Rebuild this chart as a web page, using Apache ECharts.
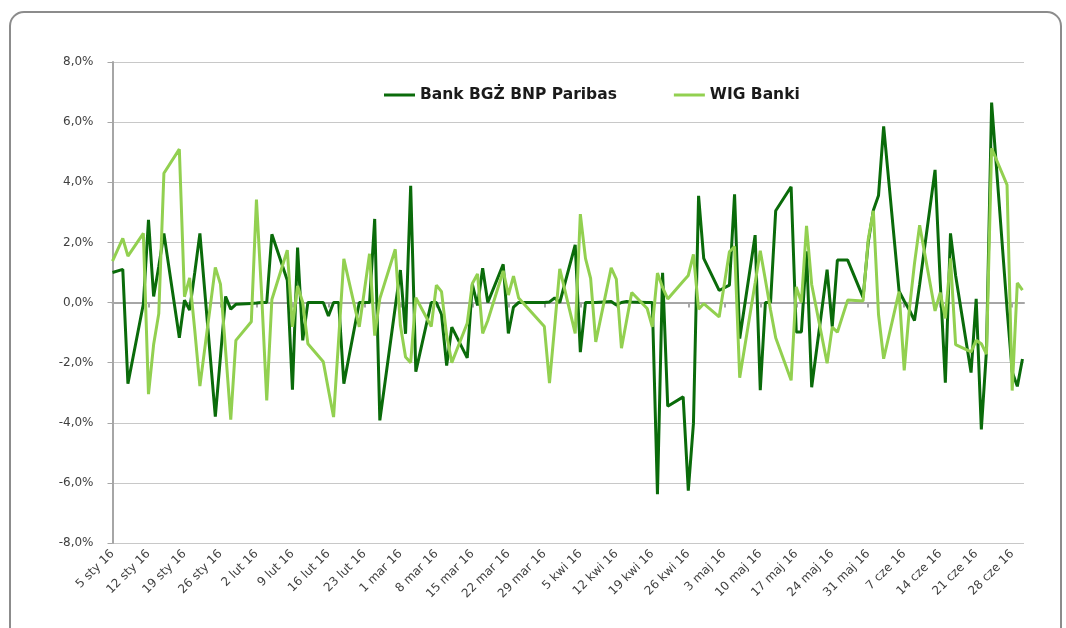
<!DOCTYPE html>
<html>
<head>
<meta charset="utf-8">
<script src="https://cdn.jsdelivr.net/npm/echarts@6/dist/echarts.min.js"></script>
<style>
html,body{margin:0;padding:0;background:#fff;}
#c{width:1066px;height:628px;}
</style>
</head>
<body>
<div id="c"></div>
<script>
// Trading days (2016) and daily returns in %
const dates = [
'2016-01-05','2016-01-07','2016-01-08','2016-01-11','2016-01-12','2016-01-13','2016-01-14','2016-01-15',
'2016-01-18','2016-01-19','2016-01-20','2016-01-21','2016-01-22','2016-01-25','2016-01-26','2016-01-27','2016-01-28','2016-01-29',
'2016-02-01','2016-02-02','2016-02-03','2016-02-04','2016-02-05','2016-02-08','2016-02-09','2016-02-10','2016-02-11','2016-02-12',
'2016-02-15','2016-02-16','2016-02-17','2016-02-18','2016-02-19','2016-02-22','2016-02-23','2016-02-24','2016-02-25','2016-02-26','2016-02-29',
'2016-03-01','2016-03-02','2016-03-03','2016-03-04','2016-03-07','2016-03-08','2016-03-09','2016-03-10','2016-03-11',
'2016-03-14','2016-03-15','2016-03-16','2016-03-17','2016-03-18','2016-03-21','2016-03-22','2016-03-23','2016-03-24',
'2016-03-29','2016-03-30','2016-03-31','2016-04-01',
'2016-04-04','2016-04-05','2016-04-06','2016-04-07','2016-04-08','2016-04-11','2016-04-12','2016-04-13','2016-04-14','2016-04-15',
'2016-04-18','2016-04-19','2016-04-20','2016-04-21','2016-04-22','2016-04-25','2016-04-26','2016-04-27','2016-04-28','2016-04-29',
'2016-05-02','2016-05-04','2016-05-05','2016-05-06','2016-05-09','2016-05-10','2016-05-11','2016-05-12','2016-05-13',
'2016-05-16','2016-05-17','2016-05-18','2016-05-19','2016-05-20','2016-05-23','2016-05-24','2016-05-25','2016-05-27',
'2016-05-30','2016-05-31','2016-06-01','2016-06-02','2016-06-03','2016-06-06','2016-06-07','2016-06-08','2016-06-09','2016-06-10',
'2016-06-13','2016-06-14','2016-06-15','2016-06-16','2016-06-17','2016-06-20','2016-06-21','2016-06-22','2016-06-23','2016-06-24',
'2016-06-27','2016-06-28','2016-06-29','2016-06-30'
];

const bgzValues = [
1.0, 1.1, -2.7, -0.05, 2.75, 0.2, 1.2, 2.3,
-1.17, 0.08, -0.25, 1.0, 2.3, -3.8, -1.8, 0.2, -0.22, -0.06,
-0.03, -0.02, 0, 0, 2.27, 0.74, -2.9, 1.83, -1.26, 0,
0, -0.45, 0, 0, -2.7, 0, 0, 0, 2.78, -3.92, -0.15,
1.08, -1.04, 3.88, -2.3, 0, 0, -0.4, -2.1, -0.82,
-1.84, 0.6, -0.1, 1.14, 0, 1.27, -1.03, -0.15, 0,
0, 0.02, 0.15, 0,
1.92, -1.65, 0, 0, 0, 0.03, -0.08, 0, 0.03, 0.02,
0, 0, -6.38, 0.99, -3.45, -3.14, -6.26, -4.03, 3.55, 1.47,
0.4, 0.58, 3.6, -1.2, 2.24, -2.92, 0, 0, 3.05,
3.85, -0.98, -0.98, 1.7, -2.82, 1.09, -0.8, 1.41, 1.41,
0.17, 2.0, 3.07, 3.56, 5.86, 0.38, 0.05, -0.25, -0.6, 0.6,
4.41, 0.7, -2.67, 2.3, 0.9, -2.33, 0.12, -4.22, -1.6, 6.65,
-0.2, -2.3, -2.79, -1.88
];

const wigValues = [
1.38, 2.13, 1.54, 2.3, -3.05, -1.4, -0.37, 4.3,
5.1, 0.19, 0.82, -0.92, -2.78, 1.17, 0.61, -1.6, -3.9, -1.26,
-0.64, 3.42, 0.3, -3.26, 0.1, 1.74, -0.81, 0.55, 0.0, -1.37,
-1.97, -2.9, -3.81, -1.2, 1.45, -0.81, 0.4, 1.62, -1.1, 0.13, 1.77,
-0.76, -1.81, -2.0, 0.16, -0.8, 0.58, 0.36, -1.1, -2.0,
-0.69, 0.63, 0.95, -1.03, -0.6, 1.05, 0.25, 0.88, 0.15,
-0.8, -2.68, -0.8, 1.12,
-1.03, 2.94, 1.47, 0.8, -1.31, 1.15, 0.78, -1.52, -0.6, 0.33,
-0.2, -0.81, 0.98, 0.5, 0.12, 0.71, 0.9, 1.6, -0.22, -0.04,
-0.48, 1.69, 1.86, -2.5, 0.65, 1.72, 0.75, -0.25, -1.17,
-2.59, 0.52, 0.0, 2.55, 0.6, -2.02, -0.82, -0.99, 0.08,
0.05, 2.1, 3.05, -0.4, -1.87, 0.36, -2.26, -0.23, 1.3, 2.57,
-0.28, 0.33, -0.53, 1.47, -1.4, -1.64, -1.26, -1.37, -1.72, 5.13,
3.91, -2.93, 0.65, 0.41
];

const seriesNames = ['Bank BGŻ BNP Paribas', 'WIG Banki'];
const monthNames = ['sty','lut','mar','kwi','maj','cze','lip','sie','wrz','paź','lis','gru'];
const startDate = '2016-01-05';
const tickStepDays = 7;
const lastTickDay = 175;

function dayOffset(s) {
  const p = s.split('-').map(Number);
  const b = startDate.split('-').map(Number);
  return Math.round((Date.UTC(p[0], p[1]-1, p[2]) - Date.UTC(b[0], b[1]-1, b[2])) / 86400000);
}
function dayLabel(v) {
  const b = startDate.split('-').map(Number);
  const d = new Date(Date.UTC(b[0], b[1]-1, b[2]) + Math.round(v) * 86400000);
  return d.getUTCDate() + ' ' + monthNames[d.getUTCMonth()] + ' ' + String(d.getUTCFullYear()).slice(2);
}
const tickDays = [];
for (let t = 0; t <= lastTickDay; t += tickStepDays) tickDays.push(t);

const bgzData = dates.map((d, i) => [dayOffset(d), bgzValues[i]]);
const wigData = dates.map((d, i) => [dayOffset(d), wigValues[i]]);

const FONT = '"DejaVu Sans", Verdana, sans-serif';
const chart = echarts.init(document.getElementById('c'), null, {renderer: 'canvas'});
chart.setOption({
  animation: false,
  backgroundColor: '#ffffff',
  graphic: [{
    type: 'rect', silent: true, z: -1,
    shape: {x: 10, y: 12, width: 1051, height: 660, r: 14},
    style: {fill: 'none', stroke: '#8c8c8c', lineWidth: 2}
  }],
  legend: {
    left: 379, top: 82,
    itemWidth: 31, itemHeight: 3, itemGap: 57,
    icon: 'rect',
    textStyle: {fontFamily: FONT, fontWeight: 'bold', fontSize: 15.5, color: '#1a1a1a'},
    data: seriesNames
  },
  grid: {left: 112.5, right: 42, top: 62, bottom: 85, containLabel: false},
  xAxis: {
    type: 'value', min: 0, max: 177.3,
    axisLine: {show: true, lineStyle: {color: '#a6a6a6', width: 2}},
    axisTick: {show: true, length: 5, customValues: tickDays, lineStyle: {color: '#a6a6a6', width: 2}},
    axisLabel: {
      customValues: tickDays, rotate: 45, margin: 9,
      fontFamily: FONT, fontSize: 12, color: '#404040',
      formatter: v => dayLabel(v)
    },
    splitLine: {show: false}
  },
  yAxis: {
    type: 'value', min: -8, max: 8, interval: 2,
    axisLine: {show: true, lineStyle: {color: '#a6a6a6', width: 2}},
    axisTick: {show: true, length: 5, lineStyle: {color: '#a6a6a6', width: 1}},
    axisLabel: {
      margin: 19, fontFamily: FONT, fontSize: 12, color: '#404040',
      formatter: v => v.toFixed(1).replace('.', ',') + '%'
    },
    splitLine: {show: true, lineStyle: {color: '#c8c8c8', width: 1.2}}
  },
  series: [
    {
      name: seriesNames[0], type: 'line', data: bgzData,
      symbol: 'none', lineStyle: {color: '#0a6b0a', width: 3}, itemStyle: {color: '#0a6b0a'}
    },
    {
      name: seriesNames[1], type: 'line', data: wigData,
      symbol: 'none', lineStyle: {color: '#92d050', width: 3}, itemStyle: {color: '#92d050'}
    }
  ]
});
</script>
</body>
</html>
